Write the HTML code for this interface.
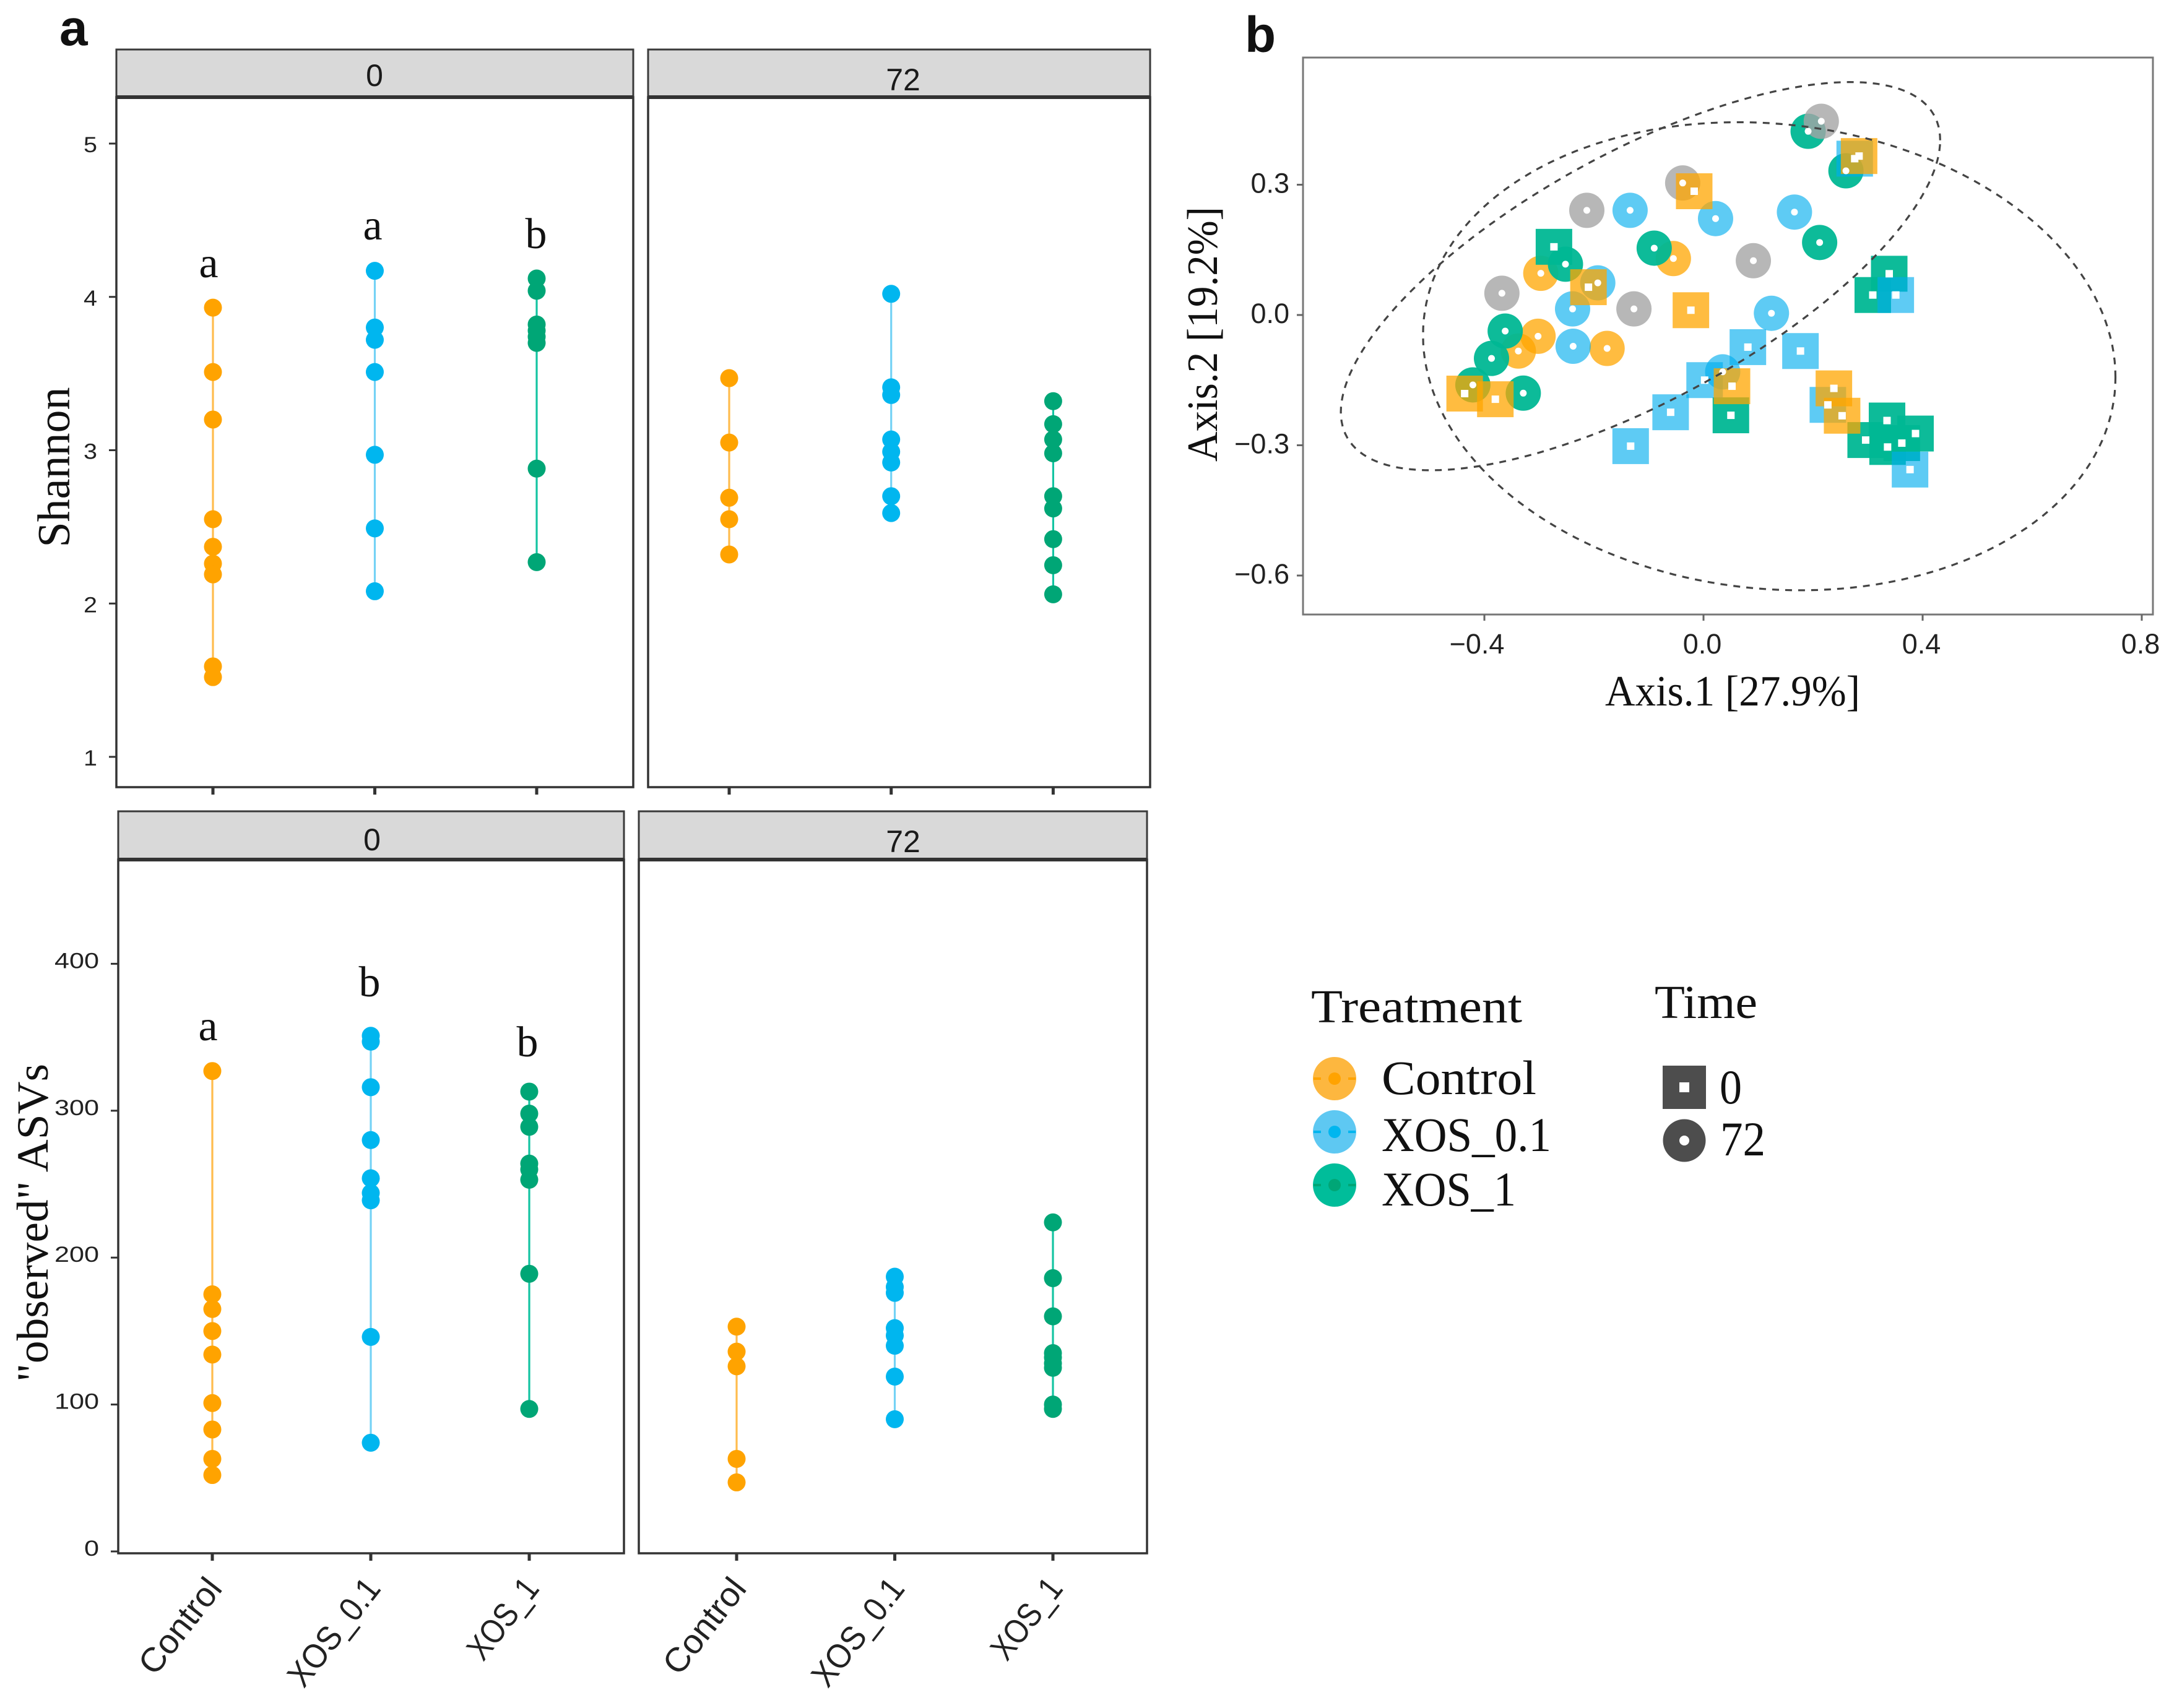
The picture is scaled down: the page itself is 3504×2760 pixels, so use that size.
<!DOCTYPE html>
<html lang="en">
<head>
<meta charset="utf-8">
<title>Alpha and beta diversity chart</title>
<style>
html,body{margin:0;padding:0;background:#fff;}
body{width:3504px;height:2760px;overflow:hidden;}
svg{display:block;}
.serif{font-family:"Liberation Serif",serif;fill:#111;}
.sans{font-family:"Liberation Sans",sans-serif;fill:#222;}
.strip{font-family:"Liberation Sans",sans-serif;font-size:50px;fill:#1a1a1a;text-anchor:middle;}
.sig{font-family:"Liberation Serif",serif;font-size:70px;fill:#111;text-anchor:middle;}
.panel-label{font-family:"Liberation Sans",sans-serif;font-weight:bold;font-size:82px;fill:#111;}
</style>
</head>
<body>
<svg id="chart" xmlns="http://www.w3.org/2000/svg" width="3504" height="2760" viewBox="0 0 3504 2760">
<rect width="3504" height="2760" fill="#fff"/>

<text class="panel-label" x="96" y="73">a</text>
<text class="panel-label" x="2011" y="84">b</text>

<g id="facets"></g>
<g id="pcoa"></g>

<text class="serif" font-size="74" text-anchor="middle" transform="translate(112 755) rotate(-90)" textLength="259" lengthAdjust="spacingAndGlyphs">Shannon</text>
<text class="serif" font-size="72" text-anchor="middle" transform="translate(77 1976) rotate(-90)" textLength="514" lengthAdjust="spacingAndGlyphs">"observed" ASVs</text>

<text class="sig" x="337" y="448">a</text>
<text class="sig" x="602" y="387">a</text>
<text class="sig" x="866" y="401">b</text>
<text class="sig" x="336" y="1681">a</text>
<text class="sig" x="597" y="1610">b</text>
<text class="sig" x="852" y="1707">b</text>

<text class="serif" font-size="70" x="2799" y="1140" text-anchor="middle" textLength="412" lengthAdjust="spacingAndGlyphs">Axis.1 [27.9%]</text>
<text class="serif" font-size="70" text-anchor="middle" transform="translate(1966 540) rotate(-90)" textLength="412" lengthAdjust="spacingAndGlyphs">Axis.2 [19.2%]</text>

<g>
  <text class="serif" font-size="76" x="2118" y="1652" textLength="341" lengthAdjust="spacingAndGlyphs">Treatment</text>
  <g>
    <circle cx="2156" cy="1743" r="35" fill="#FDB73F"/>
    <line x1="2122" x2="2190" y1="1743" y2="1743" stroke="#FFA300" stroke-width="4" stroke-dasharray="12 44"/>
    <circle cx="2156" cy="1743" r="10" fill="#FFA300"/>
    <text class="serif" font-size="78" x="2232" y="1768" textLength="250" lengthAdjust="spacingAndGlyphs">Control</text>
  </g>
  <g>
    <circle cx="2156" cy="1829" r="35" fill="#5EC8F2"/>
    <line x1="2122" x2="2190" y1="1829" y2="1829" stroke="#00B6EF" stroke-width="4" stroke-dasharray="12 44"/>
    <circle cx="2156" cy="1829" r="10" fill="#00B6EF"/>
    <text class="serif" font-size="78" x="2232" y="1860" textLength="274" lengthAdjust="spacingAndGlyphs">XOS_0.1</text>
  </g>
  <g>
    <circle cx="2156" cy="1915" r="35" fill="#00BD9A"/>
    <line x1="2122" x2="2190" y1="1915" y2="1915" stroke="#00A676" stroke-width="4" stroke-dasharray="12 44"/>
    <circle cx="2156" cy="1915" r="10" fill="#00A676"/>
    <text class="serif" font-size="78" x="2232" y="1948" textLength="217" lengthAdjust="spacingAndGlyphs">XOS_1</text>
  </g>
</g>

<g>
  <text class="serif" font-size="76" x="2673" y="1645" textLength="166" lengthAdjust="spacingAndGlyphs">Time</text>
  <g>
    <rect x="2686" y="1722" width="70" height="70" fill="#4D4D4D"/>
    <rect x="2713" y="1749" width="16" height="16" fill="#fff"/>
    <text class="serif" font-size="78" x="2778" y="1783" textLength="36" lengthAdjust="spacingAndGlyphs">0</text>
  </g>
  <g>
    <circle cx="2721" cy="1843" r="34.5" fill="#4D4D4D"/>
    <circle cx="2721" cy="1843" r="8" fill="#fff"/>
    <text class="serif" font-size="78" x="2779" y="1867" textLength="73" lengthAdjust="spacingAndGlyphs">72</text>
  </g>
</g>
</svg>

<script>
// ---------- Alpha diversity data ----------
const categories = ['Control', 'XOS_0.1', 'XOS_1'];
const shannonTicks = [1, 2, 3, 4, 5];
const observedTicks = [0, 100, 200, 300, 400];

const shannon0Control = [3.93, 3.51, 3.20, 2.55, 2.37, 2.26, 2.19, 1.59, 1.52];
const shannon0Xos01 = [4.17, 3.80, 3.72, 3.51, 2.97, 2.49, 2.08];
const shannon0Xos1 = [4.12, 4.04, 3.82, 3.78, 3.74, 3.70, 2.88, 2.27];

const shannon72Control = [3.47, 3.05, 2.69, 2.55, 2.32];
const shannon72Xos01 = [4.02, 3.41, 3.36, 3.07, 2.99, 2.92, 2.70, 2.59];
const shannon72Xos1 = [3.32, 3.17, 3.07, 2.98, 2.70, 2.62, 2.42, 2.25, 2.06];

const observed0Control = [327, 175, 165, 150, 134, 101, 83, 63, 52];
const observed0Xos01 = [351, 347, 316, 280, 254, 244, 239, 146, 74];
const observed0Xos1 = [313, 298, 289, 264, 260, 253, 189, 97];

const observed72Control = [153, 136, 126, 63, 47];
const observed72Xos01 = [187, 180, 176, 152, 147, 140, 119, 90];
const observed72Xos1 = [224, 186, 160, 135, 132, 128, 125, 100, 97];

// ---------- PCoA data (Axis.1 / Axis.2) ----------
const pcoaXTicks = [-0.4, 0.0, 0.4, 0.8];
const pcoaYTicks = [0.3, 0.0, -0.3, -0.6];

const controlCircleAxis1 = [-0.055, -0.297, -0.302, -0.338, -0.176];
const controlCircleAxis2 = [0.130, 0.096, -0.049, -0.083, -0.077];
const xos01CircleAxis1 = [-0.134, 0.022, 0.166, -0.193, -0.239, 0.124, -0.238, 0.035];
const xos01CircleAxis2 = [0.241, 0.222, 0.237, 0.074, 0.014, 0.004, -0.072, -0.131];
const xos1CircleAxis1 = [0.191, 0.260, 0.212, -0.090, -0.252, -0.362, -0.387, -0.421, -0.329];
const xos1CircleAxis2 = [0.423, 0.332, 0.167, 0.154, 0.117, -0.037, -0.100, -0.161, -0.180];
const otherCircleAxis1 = [0.215, -0.038, -0.213, 0.091, -0.368, -0.127];
const otherCircleAxis2 = [0.446, 0.304, 0.241, 0.125, 0.050, 0.014];

const xos1SquareAxis1 = [-0.273, 0.339, 0.309, 0.050, 0.296, 0.335, 0.336, 0.362, 0.387];
const xos1SquareAxis2 = [0.157, 0.095, 0.046, -0.231, -0.288, -0.243, -0.304, -0.295, -0.273];
const xos01SquareAxis1 = [0.276, 0.351, 0.081, 0.177, 0.002, -0.060, 0.227, -0.133, 0.377];
const xos01SquareAxis2 = [0.360, 0.046, -0.074, -0.083, -0.150, -0.224, -0.207, -0.302, -0.356];
const controlSquareAxis1 = [0.284, -0.017, -0.210, -0.023, 0.052, 0.238, 0.253, -0.436, -0.380];
const controlSquareAxis2 = [0.366, 0.285, 0.064, 0.011, -0.164, -0.169, -0.232, -0.181, -0.194];

// ellipse summaries: [centre axis1, centre axis2, half-range axis1, half-range axis2, correlation]
const ellipseTime72 = [-0.115, 0.0894, 0.547, 0.447, 0.70];
const ellipseTime0 = [0.120, -0.095, 0.632, 0.539, -0.09];

// ---------- helpers ----------
const NS = 'http://www.w3.org/2000/svg';
function make(tag, attrs, parent, text) {
  const el = document.createElementNS(NS, tag);
  for (const k in attrs) el.setAttribute(k, attrs[k]);
  if (text !== undefined) el.textContent = text;
  parent.appendChild(el);
  return el;
}
function slug(s) { return String(s).toLowerCase().replace(/[^a-z0-9]+/g, '-'); }

const pointColors = ['#FFA300', '#00B6EF', '#00A676'];
const lineColors = ['#FFBC4D', '#74D2F5', '#14C4A2'];

function drawFacet(cfg) {
  const root = document.getElementById('facets');
  const g = make('g', {}, root);
  
  

  const y = v => cfg.yBase - (v - cfg.tickMin) * cfg.yPerUnit;
  const x = i => cfg.x0 + i * cfg.xStep;

  const strip = make('rect', {x: cfg.left, y: cfg.top, width: cfg.right - cfg.left, height: cfg.div - cfg.top, fill: '#D9D9D9', stroke: '#3a3a3a', 'stroke-width': 3}, g);
  
  

  const stripText = make('text', {class: 'strip', x: cfg.stripX, y: cfg.stripY}, g, cfg.time);
  
  

  const box = make('rect', {x: cfg.left, y: cfg.div, width: cfg.right - cfg.left, height: cfg.bottom - cfg.div, fill: '#fff', stroke: '#333', 'stroke-width': 3.5}, g);
  
  

  const divider = make('line', {x1: cfg.left, x2: cfg.right, y1: cfg.div, y2: cfg.div, stroke: '#333', 'stroke-width': 6}, g);
  
  

  if (cfg.ticks) {
    cfg.ticks.forEach(t => {
      const tick = make('line', {x1: cfg.left - 12, x2: cfg.left, y1: y(t), y2: y(t), stroke: '#333', 'stroke-width': 3}, g);
      
      
      const chars = String(t).length;
      const label = make('text', {class: 'sans', 'font-size': 35, x: cfg.left - 31, y: y(t) + cfg.tickDy, 'text-anchor': 'end', textLength: cfg.digitW * chars, lengthAdjust: 'spacingAndGlyphs'}, g, t);
      
      
    });
  }

  categories.forEach((cat, i) => {
    const tick = make('line', {x1: x(i), x2: x(i), y1: cfg.bottom, y2: cfg.bottom + 12, stroke: '#333', 'stroke-width': 5}, g);
    
    

    if (cfg.showLabels) {
      const lengths = [180, 205, 150];
      const ex = x(i) + 18;
      const ey = 2568;
      const label = make('text', {class: 'sans', 'font-size': 55, x: ex, y: ey, 'text-anchor': 'end', textLength: lengths[i], lengthAdjust: 'spacingAndGlyphs', transform: 'rotate(-52 ' + ex + ' ' + ey + ')'}, g, cat);
      
      
    }

    const values = cfg.series[i];
    const stem = make('line', {x1: x(i), x2: x(i), y1: y(Math.max.apply(null, values)), y2: y(Math.min.apply(null, values)), stroke: lineColors[i], 'stroke-width': 3.2}, g);
    
    

    values.forEach((v, j) => {
      const dot = make('circle', {cx: x(i), cy: y(v), r: 14.5, fill: pointColors[i]}, g);
      
      
    });
  });
}

drawFacet({name: 'shannon-0', time: '0', left: 188, right: 1023, top: 80, div: 157, bottom: 1272,
  stripX: 605, stripY: 139, x0: 344, xStep: 261.5, yBase: 1223, tickMin: 1, yPerUnit: 247.75,
  ticks: shannonTicks, tickDy: 14, digitW: 22, showLabels: false,
  series: [shannon0Control, shannon0Xos01, shannon0Xos1]});
drawFacet({name: 'shannon-72', time: '72', left: 1047, right: 1858, top: 80, div: 157, bottom: 1272,
  stripX: 1459, stripY: 146, x0: 1178, xStep: 261.7, yBase: 1223, tickMin: 1, yPerUnit: 247.75,
  ticks: null, showLabels: false,
  series: [shannon72Control, shannon72Xos01, shannon72Xos1]});
drawFacet({name: 'observed-0', time: '0', left: 191, right: 1008, top: 1311, div: 1389, bottom: 2510,
  stripX: 601, stripY: 1374, x0: 343, xStep: 256, yBase: 2507, tickMin: 0, yPerUnit: 2.374,
  ticks: observedTicks, tickDy: 7, digitW: 24, showLabels: true,
  series: [observed0Control, observed0Xos01, observed0Xos1]});
drawFacet({name: 'observed-72', time: '72', left: 1032, right: 1853, top: 1311, div: 1389, bottom: 2510,
  stripX: 1459, stripY: 1377, x0: 1190, xStep: 255.5, yBase: 2507, tickMin: 0, yPerUnit: 2.374,
  ticks: null, showLabels: true,
  series: [observed72Control, observed72Xos01, observed72Xos1]});

// ---------- PCoA ----------
(function () {
  const root = document.getElementById('pcoa');
  const sx = v => 2752 + v * 885;
  const sy = v => 509 - v * 701.7;

  const frame = make('rect', {x: 2105, y: 93, width: 1373, height: 900, fill: '#fff', stroke: '#777', 'stroke-width': 3}, root);
  
  

  pcoaXTicks.forEach(t => {
    const tick = make('line', {x1: sx(t), x2: sx(t), y1: 993, y2: 1003, stroke: '#666', 'stroke-width': 3}, root);
    
    
    const txt = t.toFixed(1).replace('-', '\u2212');
    const anchorShift = t < 0 ? -12 : -2;
    const label = make('text', {class: 'sans', 'font-size': 45, x: sx(t) + anchorShift, y: 1056, 'text-anchor': 'middle'}, root, txt);
    
    
  });
  pcoaYTicks.forEach(t => {
    const tick = make('line', {x1: 2095, x2: 2105, y1: sy(t), y2: sy(t), stroke: '#666', 'stroke-width': 3}, root);
    
    
    const txt = t.toFixed(1).replace('-', '\u2212');
    const label = make('text', {class: 'sans', 'font-size': 45, x: 2083, y: sy(t) + 13, 'text-anchor': 'end'}, root, txt);
    
    
  });

  const circleStyles = [
    {name: 'control', xs: controlCircleAxis1, ys: controlCircleAxis2, fill: '#FFA500', op: 0.75},
    {name: 'xos-0-1', xs: xos01CircleAxis1, ys: xos01CircleAxis2, fill: '#00ADEE', op: 0.63},
    {name: 'xos-1', xs: xos1CircleAxis1, ys: xos1CircleAxis2, fill: '#00B794', op: 0.95},
    {name: 'other', xs: otherCircleAxis1, ys: otherCircleAxis2, fill: '#A5A5A5', op: 0.8}
  ];
  const squareStyles = [
    {name: 'xos-1', xs: xos1SquareAxis1, ys: xos1SquareAxis2, fill: '#00B794', op: 0.95},
    {name: 'xos-0-1', xs: xos01SquareAxis1, ys: xos01SquareAxis2, fill: '#00ADEE', op: 0.63},
    {name: 'control', xs: controlSquareAxis1, ys: controlSquareAxis2, fill: '#FFA500', op: 0.75}
  ];

  const holes = [];
  circleStyles.forEach(s => {
    s.xs.forEach((v, i) => {
      const m = make('circle', {cx: sx(v), cy: sy(s.ys[i]), r: 28.5, fill: s.fill, 'fill-opacity': s.op}, root);
      
      
      holes.push(['circle', sx(v), sy(s.ys[i]), s.name, i]);
    });
  });
  squareStyles.forEach(s => {
    s.xs.forEach((v, i) => {
      const m = make('rect', {x: sx(v) - 29.5, y: sy(s.ys[i]) - 29, width: 59, height: 58, fill: s.fill, 'fill-opacity': s.op}, root);
      
      
      holes.push(['rect', sx(v), sy(s.ys[i]), s.name, i]);
    });
  });
  holes.forEach(h => {
    let el;
    if (h[0] === 'circle') {
      el = make('circle', {cx: h[1], cy: h[2], r: 5.5, fill: '#fff'}, root);
    } else {
      el = make('rect', {x: h[1] - 6, y: h[2] - 6, width: 12, height: 12, fill: '#fff'}, root);
    }
    
    
  });

  function ellipsePath(e) {
    const phi = Math.acos(e[4]);
    let d = '';
    for (let k = 0; k <= 180; k++) {
      const t = k / 180 * Math.PI * 2;
      const px = sx(e[0] + e[2] * Math.cos(t));
      const py = sy(e[1] + e[3] * Math.cos(t - phi));
      d += (k ? 'L' : 'M') + px.toFixed(1) + ' ' + py.toFixed(1);
    }
    return d + 'Z';
  }
  const e1 = make('path', {d: ellipsePath(ellipseTime72), fill: 'none', stroke: '#444', 'stroke-width': 3.2, 'stroke-dasharray': '11 10'}, root);
  
  
  const e2 = make('path', {d: ellipsePath(ellipseTime0), fill: 'none', stroke: '#444', 'stroke-width': 3.2, 'stroke-dasharray': '11 10'}, root);
  
  
})();
</script>
</body>
</html>
